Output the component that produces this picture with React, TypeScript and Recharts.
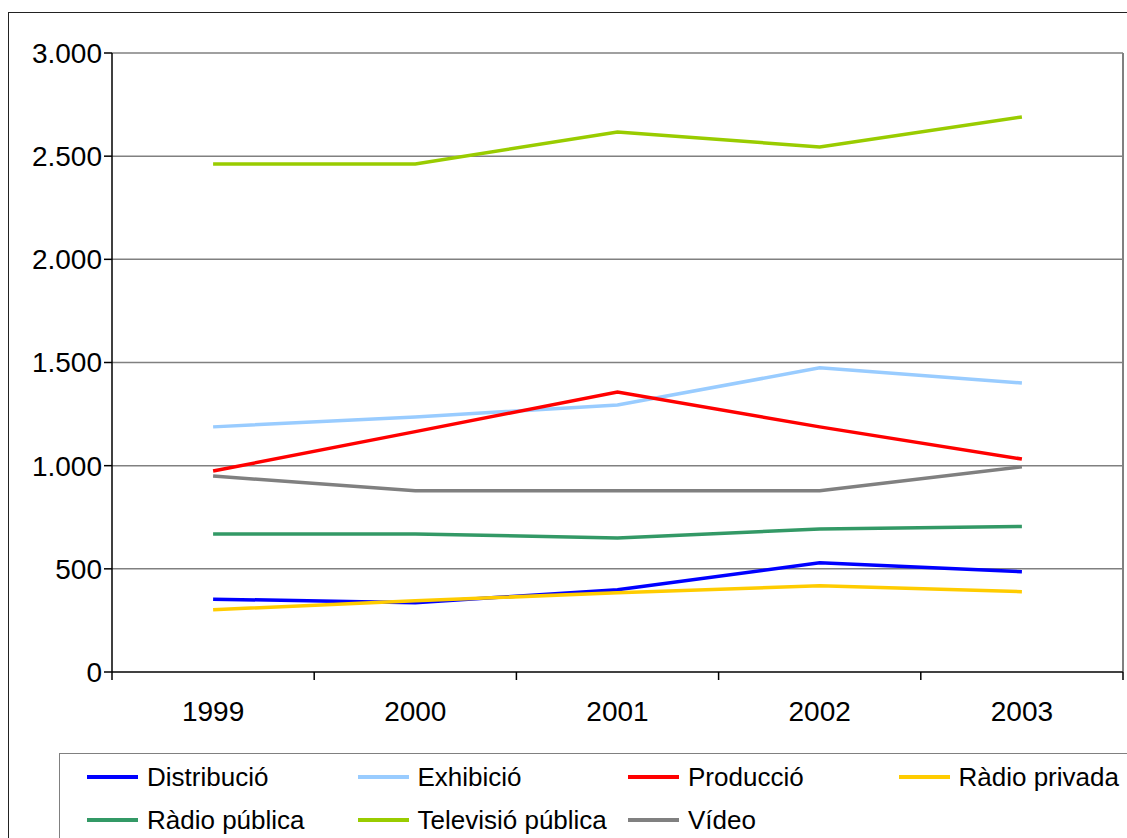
import React from 'react';
import { LineChart, Line, XAxis, YAxis, CartesianGrid, ReferenceLine } from 'recharts';

const YEARS = ['1999', '2000', '2001', '2002', '2003'];

const distribucio = [353, 336, 399, 529, 486];
const exhibicio = [1188, 1236, 1294, 1474, 1401];
const produccio = [974, 1165, 1357, 1188, 1032];
const radioPrivada = [302, 345, 384, 418, 389];
const radioPublica = [669, 669, 650, 693, 705];
const televisioPublica = [2462, 2462, 2617, 2545, 2690];
const video = [950, 878, 878, 878, 995];

const Y_TICKS = [0, 500, 1000, 1500, 2000, 2500, 3000];

const SERIES = [
  { key: 'distribucio', name: 'Distribució', color: '#0000FF', values: distribucio },
  { key: 'exhibicio', name: 'Exhibició', color: '#99CCFF', values: exhibicio },
  { key: 'produccio', name: 'Producció', color: '#FF0000', values: produccio },
  { key: 'radioPrivada', name: 'Ràdio privada', color: '#FFCC00', values: radioPrivada },
  { key: 'radioPublica', name: 'Ràdio pública', color: '#339966', values: radioPublica },
  { key: 'televisioPublica', name: 'Televisió pública', color: '#99CC00', values: televisioPublica },
  { key: 'video', name: 'Vídeo', color: '#808080', values: video },
];

const data = YEARS.map((year, i) => {
  const row: Record<string, number | string> = { x: i + 1, year };
  SERIES.forEach((s) => {
    row[s.key] = s.values[i];
  });
  return row;
});

// labels at category centres, tick marks at category boundaries
const X_TICKS: number[] = [];
for (let i = 0; i <= YEARS.length; i++) {
  X_TICKS.push(i + 0.5);
  if (i < YEARS.length) X_TICKS.push(i + 1);
}
const X_MAX = YEARS.length + 0.5;

const FONT = '"Liberation Sans", Arial, Helvetica, sans-serif';

const fmt = (v: number) => String(v).replace(/\B(?=(\d{3})+(?!\d))/g, '.');

const XTick = (props: any) => {
  const { x, y, payload } = props;
  const v = payload.value as number;
  if (Number.isInteger(v)) {
    return (
      <text x={x} y={y + 49} textAnchor="middle" fontSize={28} fontFamily={FONT} fill="#000">
        {YEARS[v - 1]}
      </text>
    );
  }
  return <line x1={x} y1={y} x2={x} y2={y + 8} stroke="#000" strokeWidth={1.5} />;
};

const App: React.FC = () => {
  return (
    <div
      style={{
        position: 'fixed',
        left: 0,
        top: 0,
        width: 1127,
        height: 838,
        overflow: 'hidden',
        background: '#fff',
        fontFamily: FONT,
      }}
    >
      <div
        style={{
          position: 'absolute',
          left: 8,
          top: 12,
          width: 1300,
          height: 1000,
          border: '1.5px solid #222',
        }}
      />
      <div style={{ position: 'absolute', left: 0, top: 0 }}>
        <LineChart width={1127} height={838} data={data} margin={{ top: 53, right: 4, bottom: 106, left: 0 }}>
          <CartesianGrid horizontal vertical={false} stroke="#808080" strokeWidth={1.5} />
          <XAxis
            dataKey="x"
            type="number"
            domain={[0.5, X_MAX]}
            ticks={X_TICKS}
            interval={0}
            height={60}
            tickSize={0}
            tickMargin={0}
            tickLine={false}
            axisLine={{ stroke: '#222', strokeWidth: 1.5 }}
            tick={<XTick />}
          />
          <YAxis
            domain={[0, 3000]}
            ticks={Y_TICKS}
            width={112}
            tickFormatter={fmt}
            tickSize={8}
            tickMargin={2}
            tick={{ fontSize: 28, fontFamily: FONT, fill: '#000' }}
            tickLine={{ stroke: '#000', strokeWidth: 1.5 }}
            axisLine={{ stroke: '#000', strokeWidth: 1.5 }}
          />
          <ReferenceLine x={X_MAX} stroke="#808080" strokeWidth={2} />
          {SERIES.map((s) => (
            <Line
              key={s.key}
              type="linear"
              dataKey={s.key}
              name={s.name}
              stroke={s.color}
              strokeWidth={3.5}
              dot={false}
              isAnimationActive={false}
            />
          ))}
        </LineChart>
      </div>
      <div
        style={{
          position: 'absolute',
          left: 59,
          top: 753,
          width: 1200,
          height: 200,
          border: '1.5px solid #808080',
        }}
      />
      {SERIES.map((s, i) => {
        const col = i % 4;
        const row = Math.floor(i / 4);
        const left = 87 + col * 270.5;
        const cy = 777 + row * 43;
        return (
          <div
            key={s.key}
            style={{
              position: 'absolute',
              left,
              top: cy - 16,
              height: 32,
              display: 'flex',
              alignItems: 'center',
              whiteSpace: 'nowrap',
            }}
          >
            <div style={{ width: 51, height: 4, background: s.color, marginRight: 9 }} />
            <span style={{ fontSize: 26, color: '#000', lineHeight: '32px' }}>{s.name}</span>
          </div>
        );
      })}
    </div>
  );
};

export default App;
